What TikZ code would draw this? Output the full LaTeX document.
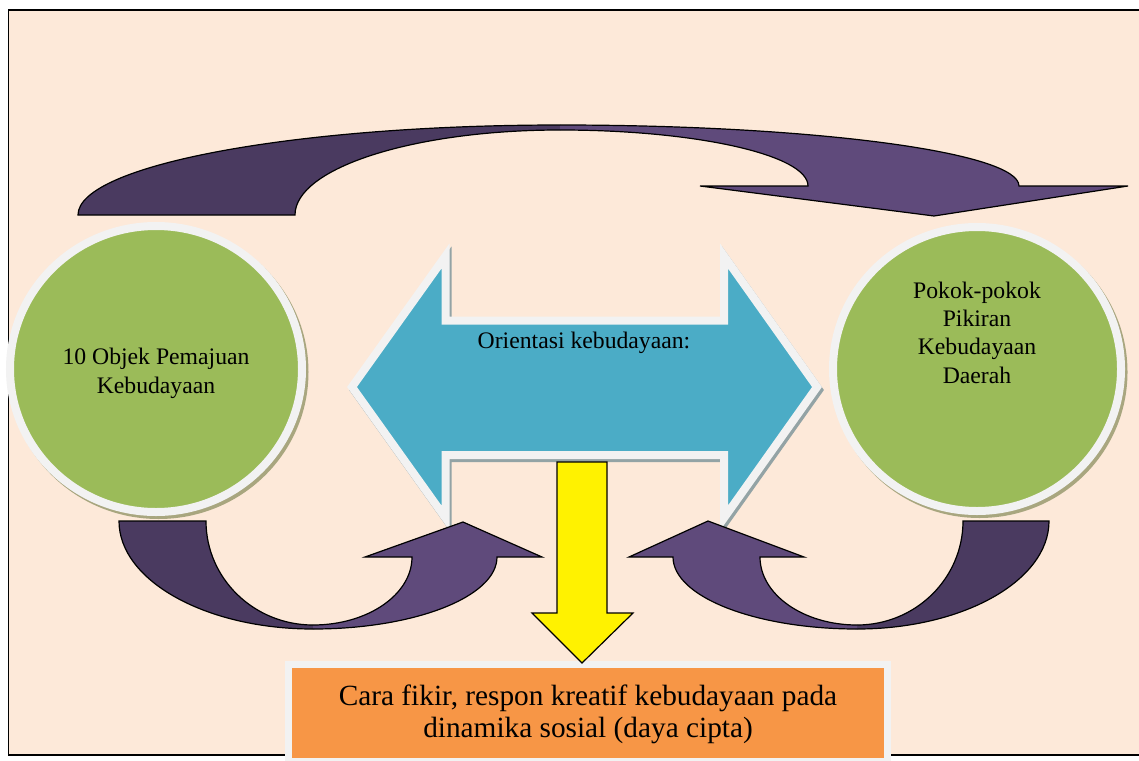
\documentclass[tikz,border=0pt]{standalone}
\usepackage{fontspec}
\setmainfont{Liberation Serif}
\definecolor{bg}{HTML}{FDE9D9}
\definecolor{blueA}{HTML}{4BACC6}
\definecolor{greenA}{HTML}{9BBB59}
\definecolor{orangeA}{HTML}{F79646}
\definecolor{ring}{HTML}{F2F2F2}
\definecolor{purpD}{HTML}{4A3A60}
\definecolor{purpL}{HTML}{5F4A7B}
\definecolor{shadB}{HTML}{93A3A5}
\definecolor{shadG}{HTML}{A8A67F}
\begin{document}
\begin{tikzpicture}[x=1pt,y=-1pt,line join=miter,
  edge/.style={draw=black,line width=1.2pt},
  ringshape/.style={draw=ring,line width=8pt},
  txt/.style={inner sep=0pt,anchor=base,font=\fontsize{23.7}{28}\selectfont},
  bigtxt/.style={inner sep=0pt,anchor=base,font=\fontsize{29.3}{32}\selectfont}]
\useasboundingbox (0,0) rectangle (1139,760);
\clip (0,0) rectangle (1139,760);
\fill[white] (0,0) rectangle (1139,760);
% frame
\fill[bg] (8.5,10) rectangle (1160,755);
\draw[line width=1.5pt] (8.5,10) rectangle (1160,755);
% blue double arrow
\path[fill=shadB,draw=shadB,line width=8pt,shift={(2,3)}]
  (352,387) -- (445.5,256) -- (445.5,320.5) -- (724,320.5) -- (724,256) -- (817,387)
  -- (724,518) -- (724,455) -- (445.5,455) -- (445.5,518) -- cycle;
\path[fill=blueA,ringshape]
  (352,387) -- (445.5,256) -- (445.5,320.5) -- (724,320.5) -- (724,256) -- (817,387)
  -- (724,518) -- (724,455) -- (445.5,455) -- (445.5,518) -- cycle;
% circles
\fill[shadG] (158.5,372) ellipse[x radius=150, y radius=147];
\path[fill=greenA,ringshape] (156,369) ellipse[x radius=146, y radius=143];
\fill[shadG] (979.5,372) ellipse[x radius=148, y radius=146];
\path[fill=greenA,ringshape] (977,369) ellipse[x radius=144, y radius=142];
% top curved arrow
\fill[purpD] (78,215) arc[start angle=180,end angle=270,x radius=482,y radius=90]
  -- (560,130) arc[start angle=270,end angle=180,x radius=265,y radius=85] -- cycle;
\path[edge] (560,125) arc[start angle=270,end angle=180,x radius=482,y radius=90]
  -- (295,215) arc[start angle=180,end angle=270,x radius=265,y radius=85];
\fill[purpL] (560,125) arc[start angle=270,end angle=360,x radius=459,y radius=61]
  -- (1128,186) -- (934,216) -- (700,186) -- (808,186)
  arc[start angle=0,end angle=-90,x radius=248,y radius=56] -- cycle;
\path[edge] (560,125) arc[start angle=270,end angle=360,x radius=459,y radius=61]
  -- (1128,186) -- (934,216) -- (700,186) -- (808,186)
  arc[start angle=0,end angle=-90,x radius=248,y radius=56];
% bottom-left curved arrow
\fill[purpD] (119,521) arc[start angle=180,end angle=90,x radius=194,y radius=108]
  -- (313,625) arc[start angle=90,end angle=180,x radius=107,y radius=104] -- cycle;
\path[edge] (313,629) arc[start angle=90,end angle=180,x radius=194,y radius=108]
  -- (206,521) arc[start angle=180,end angle=90,x radius=107,y radius=104];
\fill[purpL] (313,629) arc[start angle=90,end angle=0,x radius=184,y radius=72]
  -- (542,557) -- (463,522) -- (365,557) -- (412,557)
  arc[start angle=0,end angle=90,x radius=99,y radius=68] -- cycle;
\path[edge] (313,629) arc[start angle=90,end angle=0,x radius=184,y radius=72]
  -- (542,557) -- (463,522) -- (365,557) -- (412,557)
  arc[start angle=0,end angle=90,x radius=99,y radius=68];
% bottom-right curved arrow
\fill[purpD] (1049,521) arc[start angle=0,end angle=90,x radius=192,y radius=108]
  -- (857,625) arc[start angle=90,end angle=0,x radius=106,y radius=104] -- cycle;
\path[edge] (857,629) arc[start angle=90,end angle=0,x radius=192,y radius=108]
  -- (963,521) arc[start angle=0,end angle=90,x radius=106,y radius=104];
\fill[purpL] (857,629) arc[start angle=90,end angle=180,x radius=184,y radius=72]
  -- (629,557) -- (708,521) -- (804,557) -- (760,557)
  arc[start angle=180,end angle=90,x radius=97,y radius=68] -- cycle;
\path[edge] (857,629) arc[start angle=90,end angle=180,x radius=184,y radius=72]
  -- (629,557) -- (708,521) -- (804,557) -- (760,557)
  arc[start angle=180,end angle=90,x radius=97,y radius=68];
% bottom box
\path[fill=orangeA,draw=ring,line width=7pt] (288.5,664) rectangle (887.5,761);
% yellow arrow
\draw[fill=yellow,line width=1.2pt] (557,462) -- (607,462) -- (607,613) -- (633,613)
  -- (582,663) -- (532,613) -- (557,613) -- cycle;
% texts
\node[txt] (l1) at (156,364) {10 Objek Pemajuan};
\node[txt] (l2) at (156,393) {Kebudayaan};
\node[txt] (r1) at (977,298) {Pokok-pokok};
\node[txt] (r2) at (977,326) {Pikiran};
\node[txt] (r3) at (977,354) {Kebudayaan};
\node[txt] (r4) at (977,383) {Daerah};
\node[txt] (c1) at (584,348) {Orientasi kebudayaan:};
\node[bigtxt] (b1) at (588,705) {Cara fikir, respon kreatif kebudayaan pada};
\node[bigtxt] (b2) at (588,737) {dinamika sosial (daya cipta)};
\end{tikzpicture}
\end{document}
